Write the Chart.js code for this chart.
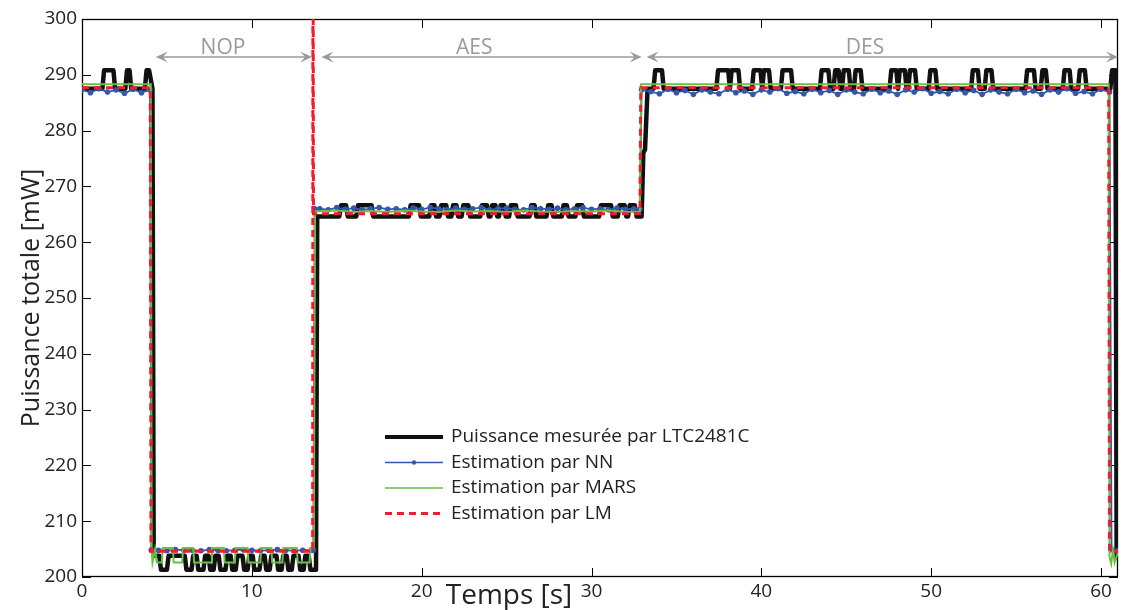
<!DOCTYPE html>
<html>
<head>
<meta charset="utf-8">
<script src="https://cdn.jsdelivr.net/npm/chart.js@4"></script>
<style>
  html, body { margin: 0; padding: 0; background: #fff; }
  #power-chart { display: block; }
</style>
</head>
<body>
<canvas id="power-chart" width="1122" height="610"></canvas>
<script>
// measured power (LTC2481C), time in s / power in mW
var measTime = [
  0, 1.2, 1.3, 1.85, 1.95, 2.55, 2.65, 2.8, 2.9, 3.7, 3.8, 3.95, 4.15, 4.22,
  4.55, 4.65, 5.0, 5.1,
  6.05, 6.15, 6.45, 6.55,
  6.75, 6.85, 7.15, 7.25,
  7.45, 7.55, 7.75, 7.85,
  8.05, 8.15, 8.45, 8.55,
  8.75, 8.85, 9.05, 9.15,
  9.45, 9.55, 9.75, 9.85,
  10.05, 10.15, 10.45, 10.55,
  10.75, 10.85, 11.05, 11.15,
  11.45, 11.55, 11.75, 11.85,
  12.05, 12.15, 12.35, 12.45,
  12.75, 12.85, 13.05, 13.15,
  13.35, 13.45, 13.78, 13.85,
  15.15, 15.25, 15.55, 15.65,
  16.15, 16.25, 17.05, 17.15,
  19.25, 19.35, 19.85, 19.95,
  20.45, 20.55, 20.75, 20.85,
  21.05, 21.15, 21.45, 21.55,
  21.75, 21.85, 22.05, 22.15,
  22.35, 22.45, 22.75, 22.85,
  23.45, 23.55, 23.85, 23.95,
  24.05, 24.15, 24.35, 24.45,
  24.55, 24.65, 24.85, 24.95,
  25.15, 25.25, 25.55, 25.65,
  26.35, 26.45, 26.65, 26.75,
  27.35, 27.45, 27.65, 27.75,
  28.25, 28.35, 28.55, 28.65,
  29.05, 29.15, 29.45, 29.55,
  30.45, 30.55, 31.15, 31.25,
  31.55, 31.65, 31.95, 32.05,
  32.15, 32.25, 32.55, 32.65,
  32.95, 33.05, 33.15, 33.3,
  33.65, 33.75, 34.15, 34.25,
  37.35, 37.45, 38.05, 38.15,
  38.15, 38.25, 38.65, 38.75,
  39.45, 39.55, 39.95, 40.05,
  40.05, 40.15, 40.45, 40.55,
  41.15, 41.25, 41.75, 41.85,
  43.45, 43.55, 43.95, 44.05,
  44.25, 44.35, 44.55, 44.65,
  44.75, 44.85, 45.15, 45.25,
  45.45, 45.55, 45.85, 45.95,
  47.55, 47.65, 47.95, 48.05,
  48.05, 48.15, 48.45, 48.55,
  48.65, 48.75, 49.05, 49.15,
  49.85, 49.95, 50.25, 50.35,
  52.35, 52.45, 52.75, 52.85,
  53.15, 53.25, 53.55, 53.65,
  55.55, 55.65, 56.05, 56.15,
  56.45, 56.55, 56.75, 56.85,
  57.75, 57.85, 58.15, 58.25,
  58.65, 58.75, 59.05, 59.15,
  60.55, 60.65, 60.85, 60.92, 61
];
var measPower = [
  287.5, 287.5, 290.8, 290.8, 287.5, 287.5, 290.8, 290.8, 287.5, 287.5, 290.8, 290.8, 287.5, 203.8,
  203.8, 201.3, 201.3, 203.8,
  203.8, 201.3, 201.3, 203.8,
  203.8, 201.3, 201.3, 203.8,
  203.8, 201.3, 201.3, 203.8,
  203.8, 201.3, 201.3, 203.8,
  203.8, 201.3, 201.3, 203.8,
  203.8, 201.3, 201.3, 203.8,
  203.8, 201.3, 201.3, 203.8,
  203.8, 201.3, 201.3, 203.8,
  203.8, 201.3, 201.3, 203.8,
  203.8, 201.3, 201.3, 203.8,
  203.8, 201.3, 201.3, 203.8,
  203.8, 201.3, 201.3, 264.6,
  264.6, 266.6, 266.6, 264.6,
  264.6, 266.6, 266.6, 264.6,
  264.6, 266.6, 266.6, 264.6,
  264.6, 266.6, 266.6, 264.6,
  264.6, 266.6, 266.6, 264.6,
  264.6, 266.6, 266.6, 264.6,
  264.6, 266.6, 266.6, 264.6,
  264.6, 266.6, 266.6, 264.6,
  264.6, 266.6, 266.6, 264.6,
  264.6, 266.6, 266.6, 264.6,
  264.6, 266.6, 266.6, 264.6,
  264.6, 266.6, 266.6, 264.6,
  264.6, 266.6, 266.6, 264.6,
  264.6, 266.6, 266.6, 264.6,
  264.6, 266.6, 266.6, 264.6,
  264.6, 266.6, 266.6, 264.6,
  264.6, 266.6, 266.6, 264.6,
  264.6, 266.6, 266.6, 264.6,
  264.6, 276.0, 276.6, 287.5,
  287.5, 290.8, 290.8, 287.5,
  287.5, 290.8, 290.8, 287.5,
  287.5, 290.8, 290.8, 287.5,
  287.5, 290.8, 290.8, 287.5,
  287.5, 290.8, 290.8, 287.5,
  287.5, 290.8, 290.8, 287.5,
  287.5, 290.8, 290.8, 287.5,
  287.5, 290.8, 290.8, 287.5,
  287.5, 290.8, 290.8, 287.5,
  287.5, 290.8, 290.8, 287.5,
  287.5, 290.8, 290.8, 287.5,
  287.5, 290.8, 290.8, 287.5,
  287.5, 290.8, 290.8, 287.5,
  287.5, 290.8, 290.8, 287.5,
  287.5, 290.8, 290.8, 287.5,
  287.5, 290.8, 290.8, 287.5,
  287.5, 290.8, 290.8, 287.5,
  287.5, 290.8, 290.8, 287.5,
  287.5, 290.8, 290.8, 287.5,
  287.5, 290.8, 290.8, 287.5,
  287.5, 290.8, 290.8, 203.5, 203.5
];

// NN estimate
var nnTime = [
  0, 0.5, 1, 1.5, 2, 2.5, 3, 3.5, 4, 4.08,
  4.5, 5, 5.5, 6, 6.5, 7, 7.5, 8, 8.5, 9, 9.5, 10, 10.5, 11, 11.5, 12, 12.5, 13, 13.5,
  13.62, 13.7,
  14, 14.5, 15, 15.5, 16, 16.5, 17, 17.5, 18, 18.5, 19, 19.5, 20, 20.5, 21, 21.5, 22, 22.5, 23,
  23.5, 24, 24.5, 25, 25.5, 26, 26.5, 27, 27.5, 28, 28.5, 29, 29.5, 30, 30.5, 31, 31.5, 32, 32.5,
  32.85, 32.95,
  33.5, 34, 34.5, 35, 35.5, 36, 36.5, 37, 37.5, 38, 38.5, 39, 39.5, 40, 40.5, 41, 41.5, 42, 42.5,
  43, 43.5, 44, 44.5, 45, 45.5, 46, 46.5, 47, 47.5, 48, 48.5, 49, 49.5, 50, 50.5, 51, 51.5, 52,
  52.5, 53, 53.5, 54, 54.5, 55, 55.5, 56, 56.5, 57, 57.5, 58, 58.5, 59, 59.5, 60, 60.5,
  60.62, 61
];
var nnPower = [
  287.3, 286.8, 287.5, 286.9, 287.3, 286.7, 287.4, 286.8, 287.3, 204.8,
  204.8, 204.7, 204.9, 204.8, 204.8, 204.7, 204.9, 204.8, 204.7, 204.8, 204.9, 204.8, 204.7, 204.8,
  204.9, 204.8, 204.7, 204.8, 204.8,
  204.8, 266.0,
  266.0, 265.8, 266.2, 265.9, 266.1, 265.8, 266.0, 266.2, 265.9, 266.0,
  265.8, 266.1, 265.9, 266.2, 266.0, 265.8, 266.1, 265.9, 266.0, 266.2,
  265.8, 266.0, 266.1, 265.9, 265.8, 266.2, 266.0, 265.9, 266.1, 265.8,
  266.0, 266.2, 265.9, 266.0, 265.8, 266.1, 265.9, 266.0,
  265.9, 287.3,
  287.0, 286.6, 287.4, 286.8, 287.2, 286.5, 287.3, 286.9, 286.6, 287.4,
  286.8, 287.1, 286.5, 287.3, 286.9, 287.5, 286.7, 287.0, 286.6, 287.4,
  286.8, 287.2, 286.5, 287.3, 286.9, 286.6, 287.4, 286.8, 287.1, 286.5,
  287.3, 286.9, 287.5, 286.7, 287.0, 286.6, 287.4, 286.8, 287.2, 286.5,
  287.3, 286.9, 286.6, 287.4, 286.8, 287.1, 286.5, 287.3, 286.9, 287.5,
  286.7, 287.0, 286.6, 287.4, 286.9,
  204.9, 204.8
];

// MARS estimate
var marsTime = [
  0, 4.05, 4.1, 4.15, 4.3, 4.4, 4.7, 4.75,
  5.35, 5.4, 5.9, 5.95,
  6.55, 6.6, 7.6, 7.65,
  8.35, 8.4, 9.0, 9.05,
  9.75, 9.8, 10.5, 10.55,
  11.15, 11.2, 11.8, 11.85,
  12.65, 12.7, 13.4, 13.45,
  13.65, 13.72,
  15, 16, 17, 18, 19, 20, 21, 22, 23, 24, 25, 26, 27, 28, 29, 30, 31, 32,
  32.85, 32.92,
  60.45, 60.5, 60.6, 60.7, 60.8, 61
];
var marsPower = [
  288.3, 288.3, 205.2, 202.6, 205.0, 202.6, 202.6, 205.2,
  205.2, 202.6, 202.6, 205.2,
  205.2, 202.6, 202.6, 205.2,
  205.2, 202.6, 202.6, 205.2,
  205.2, 202.6, 202.6, 205.2,
  205.2, 202.6, 202.6, 205.2,
  205.2, 202.6, 202.6, 205.2,
  205.2, 265.5,
  265.7, 265.4, 265.6, 265.4, 265.7, 265.5, 265.4, 265.7, 265.5, 265.6, 265.4, 265.7, 265.5,
  265.4, 265.6, 265.5, 265.7, 265.4,
  265.5, 288.3,
  288.3, 203.6, 202.4, 204.8, 202.6, 204.4
];

// LM estimate
var lmTime = [0, 4.02, 4.06, 13.58, 13.6, 13.63, 32.85, 32.9, 60.45, 60.5, 61];
var lmPower = [287.7, 287.7, 204.6, 204.6, 330, 265.1, 265.1, 287.7, 287.7, 204.6, 204.6];

// phases annotated on top of the plot
var phaseNames = ['NOP', 'AES', 'DES'];
var phaseFrom = [4.35, 14.1, 33.25];
var phaseTo = [13.55, 32.95, 61];
var phaseLabelAt = [8.3, 23.1, 46.1];

var yTicks = [200, 210, 220, 230, 240, 250, 260, 270, 280, 290, 300];
var xTicks = [0, 10, 20, 30, 40, 50, 60];

function toPoints(xs, ys) {
  return xs.map(function (x, i) { return { x: x, y: ys[i] }; });
}

Chart.defaults.font.family = '"Open Sans", sans-serif';
Chart.defaults.color = '#222';

function arrowHead(ctx, x, y, dir) {
  ctx.beginPath();
  ctx.moveTo(x, y);
  ctx.lineTo(x - dir * 12, y - 5.5);
  ctx.lineTo(x - dir * 7, y);
  ctx.lineTo(x - dir * 12, y + 5.5);
  ctx.closePath();
  ctx.fill();
}

var framePlugin = {
  id: 'frame',
  beforeDatasetsDraw: function (chart) {
    var ctx = chart.ctx, a = chart.chartArea;
    var xs = chart.scales.x, ys = chart.scales.y;
    ctx.save();
    ctx.strokeStyle = '#000';
    ctx.lineWidth = 1;
    ctx.beginPath();
    xTicks.forEach(function (v) {
      var px = Math.round(xs.getPixelForValue(v)) + 0.5;
      ctx.moveTo(px, a.bottom); ctx.lineTo(px, a.bottom - 9);
      ctx.moveTo(px, a.top); ctx.lineTo(px, a.top + 9);
    });
    yTicks.forEach(function (v) {
      var py = Math.round(ys.getPixelForValue(v)) + 0.5;
      ctx.moveTo(a.left, py); ctx.lineTo(a.left + 9, py);
      ctx.moveTo(a.right, py); ctx.lineTo(a.right - 9, py);
    });
    ctx.stroke();
    ctx.lineWidth = 1.3;
    ctx.strokeRect(a.left + 0.5, a.top + 0.5, a.right - a.left - 1, a.bottom - a.top - 1);
    ctx.restore();
  },
  afterDatasetsDraw: function (chart) {
    var ctx = chart.ctx;
    var xs = chart.scales.x, ys = chart.scales.y;
    ctx.save();
    // phase arrows
    var yArrow = ys.getPixelForValue(293.2);
    var yLabel = ys.getPixelForValue(294.8);
    ctx.strokeStyle = '#9a9a9a';
    ctx.fillStyle = '#9a9a9a';
    ctx.lineWidth = 1.5;
    ctx.font = '21px "Open Sans", sans-serif';
    ctx.textAlign = 'center';
    ctx.textBaseline = 'middle';
    phaseNames.forEach(function (name, i) {
      var x1 = xs.getPixelForValue(phaseFrom[i]);
      var x2 = xs.getPixelForValue(phaseTo[i]);
      ctx.beginPath();
      ctx.moveTo(x1 + 6, yArrow); ctx.lineTo(x2 - 6, yArrow);
      ctx.stroke();
      arrowHead(ctx, x1, yArrow, -1);
      arrowHead(ctx, x2, yArrow, 1);
      ctx.fillText(name, xs.getPixelForValue(phaseLabelAt[i]), yLabel);
    });

    // legend drawn inside the axes, MATLAB style
    ctx.textAlign = 'left';
    ctx.font = '19px "Open Sans", sans-serif';
    chart.data.datasets.forEach(function (ds, i) {
      var y = 437 + i * 25.5;
      ctx.strokeStyle = ds.borderColor;
      ctx.lineWidth = ds.legendWidth;
      ctx.setLineDash(ds.borderDash || []);
      ctx.beginPath();
      ctx.moveTo(385, y); ctx.lineTo(443, y);
      ctx.stroke();
      ctx.setLineDash([]);
      if (ds.pointRadius > 0) {
        ctx.fillStyle = ds.borderColor;
        ctx.beginPath();
        ctx.arc(414, y, 2.2, 0, Math.PI * 2);
        ctx.fill();
      }
      ctx.fillStyle = '#222';
      ctx.fillText(ds.label, 451, y);
    });

    // x axis title sits left of the axis centre in the original
    ctx.font = '28px "Open Sans", sans-serif';
    ctx.textAlign = 'center';
    ctx.fillStyle = '#222';
    ctx.fillText('Temps [s]', 509, 596);
    ctx.restore();
  }
};

var powerChart = new Chart(
  document.getElementById('power-chart').getContext('2d'),
  {
    type: 'line',
    data: {
      datasets: [
        {
          label: 'Puissance mesurée par LTC2481C',
          data: toPoints(measTime, measPower),
          borderColor: '#111111',
          borderWidth: 4.5,
          legendWidth: 4,
          borderJoinStyle: 'round',
          pointRadius: 0,
          order: 4
        },
        {
          label: 'Estimation par NN',
          data: toPoints(nnTime, nnPower),
          borderColor: '#3556ad',
          backgroundColor: '#3556ad',
          borderWidth: 1.8,
          legendWidth: 1.5,
          pointRadius: 2.8,
          pointBorderWidth: 0,
          order: 3
        },
        {
          label: 'Estimation par MARS',
          data: toPoints(marsTime, marsPower),
          borderColor: '#66c144',
          borderWidth: 2,
          legendWidth: 1.6,
          pointRadius: 0,
          order: 2
        },
        {
          label: 'Estimation par LM',
          data: toPoints(lmTime, lmPower),
          borderColor: '#ee1f2b',
          borderWidth: 3,
          legendWidth: 3,
          borderDash: [7, 5],
          pointRadius: 0,
          order: 1
        }
      ]
    },
    options: {
      responsive: false,
      animation: false,
      events: [],
      layout: { padding: { top: 19, right: 2, left: 0, bottom: 0 } },
      elements: { line: { tension: 0 } },
      plugins: {
        legend: { display: false },
        tooltip: { enabled: false }
      },
      scales: {
        x: {
          type: 'linear',
          min: 0,
          max: 61,
          grid: { display: false, drawTicks: false },
          border: { display: false },
          ticks: { stepSize: 10, padding: 3, maxRotation: 0, font: { size: 19 }, color: '#222' },
          afterBuildTicks: function (s) {
            s.ticks = xTicks.map(function (v) { return { value: v }; });
          },
          afterFit: function (s) { s.height = 33; }
        },
        y: {
          min: 200,
          max: 300,
          grid: { display: false, drawTicks: false },
          border: { display: false },
          ticks: { stepSize: 10, padding: 5, font: { size: 19 }, color: '#222' },
          afterBuildTicks: function (s) {
            s.ticks = yTicks.map(function (v) { return { value: v }; });
          },
          title: {
            display: true,
            text: 'Puissance totale [mW]',
            font: { size: 25 },
            color: '#222',
            padding: { top: 17, bottom: 0 }
          },
          afterFit: function (s) { s.width = 82; }
        }
      }
    },
    plugins: [framePlugin]
  }
);
</script>
</body>
</html>
